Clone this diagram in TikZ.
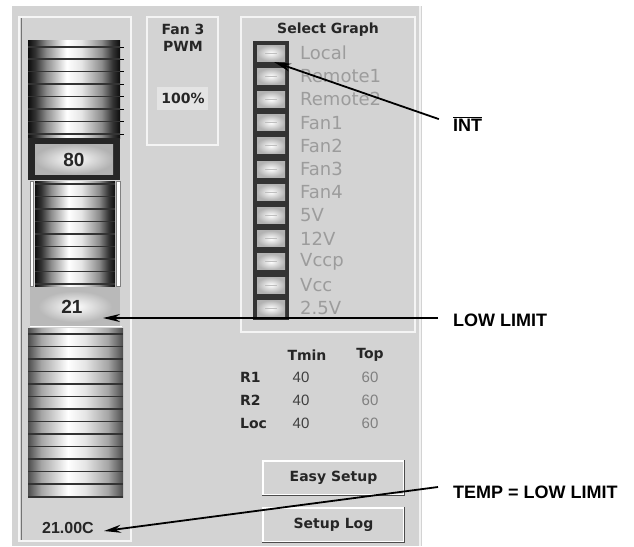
\documentclass[tikz,border=0pt]{standalone}
\usepackage{fontspec}
\setmainfont{Liberation Sans}
\newfontfamily\dv{DejaVu Sans}
\usetikzlibrary{arrows.meta}
\definecolor{panel}{HTML}{D3D3D3}
\definecolor{lbl}{HTML}{9C9C9C}
\pgfdeclarehorizontalshading{cylsh}{100bp}{color(0bp)=(black!95); color(25bp)=(black!95); color(29bp)=(black!80); color(35bp)=(black!45); color(46bp)=(white); color(54bp)=(white!90!black); color(65bp)=(black!45); color(71bp)=(black!80); color(75bp)=(black!95); color(100bp)=(black!95)}
\pgfdeclarehorizontalshading{cylsoft}{100bp}{color(0bp)=(black!70); color(25bp)=(black!70); color(32bp)=(black!35); color(46bp)=(white); color(55bp)=(white!90!black); color(67bp)=(black!35); color(75bp)=(black!70); color(100bp)=(black!70)}
\begin{document}
\begin{tikzpicture}[x=1pt,y=-1pt,
  cyl/.style={shading=cylsh},
  cylb/.style={shading=cylsoft},
  stripe/.style={black!80, line width=1.3pt},
  num/.style={font=\fontsize{19}{21}\selectfont\bfseries, inner sep=0pt, text=black!85},
  ui/.style={font=\dv\fontsize{14}{16}\selectfont\bfseries, inner sep=0pt, text=black!85},
  lab/.style={font=\dv\fontsize{18}{20}\selectfont, inner sep=0pt, anchor=west, text=lbl},
  val/.style={font=\fontsize{15}{17}\selectfont, inner sep=0pt},
  ann/.style={font=\fontsize{18}{20}\selectfont\bfseries, inner sep=0pt, anchor=west},
  arr/.style={line width=1.8pt, -{Stealth[length=17pt,width=8pt]}},
  uibtn/.style={ui, draw=white, line width=1.2pt, fill=panel, minimum width=141pt, minimum height=34pt}
]
\useasboundingbox (0,0) rectangle (634,546);
\fill[white] (0,0) rectangle (634,546);
\fill[panel] (12,6) rectangle (422,546);
\draw[white!70!panel, line width=2pt] (420,6) -- (420,546);

% ---- slider frame
\draw[fill=panel, draw=white!80!panel, line width=1.5pt] (19,17) rectangle (131,541);
\draw[black!55, line width=1.5pt] (21.5,18) -- (21.5,540);

% upper stack
\shade[cyl] (28,40) rectangle (120,138);
\foreach \y in {47,59,71.5,84,96.5,109,121.5,134}{
  \draw[stripe] (28,\y) -- (120,\y);
  \draw[black, line width=1pt] (120,\y) -- (124,\y);
}
% 80 button
\fill[black!85] (28,138) rectangle (120,180);
\shade[inner color=white, outer color=gray!60] (35,144) rectangle (113,174);
\node[num] (v80) at (74,160) {80};

% middle stack
\draw[fill=white, draw=gray, line width=0.6pt] (30,181) rectangle (33.5,286);
\draw[fill=white, draw=gray, line width=0.6pt] (116.5,181) rectangle (120,286);
\shade[cyl] (35,181) rectangle (115,286);
\foreach \y in {184,196.5,209,221.5,234,246.5,259,271.5,284}{
  \draw[stripe] (35,\y) -- (115,\y);
}
% 21 button
\fill[gray!55] (30,287) rectangle (120,326);
\shade[inner color=white, outer color=gray!55] (38,291) rectangle (112,322);
\draw[white, line width=1.5pt] (30,326.5) -- (122,326.5);
\node[num] (v21) at (72,307) {21};

% lower stack
\shade[cylb] (28,328) rectangle (123,497);
\foreach \y in {334,346.5,359,371.5,384,396.5,409,421.5,434,446.5,459,471.5,484,497}{
  \draw[stripe] (28,\y) -- (123,\y);
}
\node[font=\fontsize{16}{18}\selectfont\bfseries, inner sep=0pt, text=black!85] (tempval) at (68,528) {21.00C};

% ---- Fan 3 PWM box
\draw[fill=panel, draw=white!75!panel, line width=1.5pt] (147,17) rectangle (218,145);
\fill[white!40!panel] (157,87) rectangle (208,110);
\node[ui] (fan3) at (183,29) {Fan 3};
\node[ui] (pwm) at (183,46) {PWM};
\node[ui] (pct) at (183,98) {100\%};

% ---- Select Graph box
\draw[fill=panel, draw=white!75!panel, line width=1.5pt] (241,17) rectangle (415,332);
\node[ui] (selg) at (328,30) {Select Graph};
\foreach \t [count=\i from 0] in {Local,Remote1,Remote2,Fan1,Fan2,Fan3,Fan4,5V,12V,Vccp,Vcc,2.5V}{
  \pgfmathsetmacro{\yc}{53+23.2*\i}
  \fill[black!80] (253,\yc-11.6) rectangle (289,\yc+11.6);
  \shade[inner color=white, outer color=gray!60] (257,\yc-8) rectangle (285,\yc+8);
  \draw[gray!50, line width=0.8pt] (265,\yc) -- (277,\yc);
  \node[lab] (sg\i) at (300,\yc) {\t};
}

% ---- table
\node[ui] (tmin) at (307,355) {Tmin};
\node[ui] (top) at (370,355) {Top};
\node[ui, anchor=west] (r1) at (240,377) {R1};
\node[ui, anchor=west] (r2) at (240,400) {R2};
\node[ui, anchor=west] (loc) at (240,423) {Loc};
\node[val, text=black!75] (r1a) at (301,377) {40};
\node[val, text=black!75] (r2a) at (301,400) {40};
\node[val, text=black!75] (loca) at (301,423) {40};
\node[val, text=black!50] (r1b) at (370,377) {60};
\node[val, text=black!50] (r2b) at (370,400) {60};
\node[val, text=black!50] (locb) at (370,423) {60};

% ---- buttons
\node[uibtn] (easy) at (333.5,478) {Easy Setup};
\draw[black!70, line width=1.5pt] (easy.north east) -- (easy.south east) -- (easy.south west);
\node[uibtn] (setup) at (333.5,525) {Setup Log};
\draw[black!70, line width=1.5pt] (setup.north east) -- (setup.south east) -- (setup.south west);

% ---- annotations
\node[ann] (intlbl) at (453,124) {$\overline{\mbox{INT}}$};
\node[ann] (lowlbl) at (453,320) {LOW LIMIT};
\node[ann] (templbl) at (453,492) {TEMP = LOW LIMIT};
\coordinate (inttip) at (274,62);
\coordinate (lowtip) at (103,318);
\coordinate (lowstart) at (438,318);
\coordinate (tempstart) at (438,487);
\coordinate (temptip) at (104,531);
\draw[arr, shorten <=15pt] (intlbl.west) -- (inttip);
\draw[arr] (lowstart) -- (lowtip);
\draw[arr] (tempstart) -- (temptip);
\end{tikzpicture}
\end{document}
